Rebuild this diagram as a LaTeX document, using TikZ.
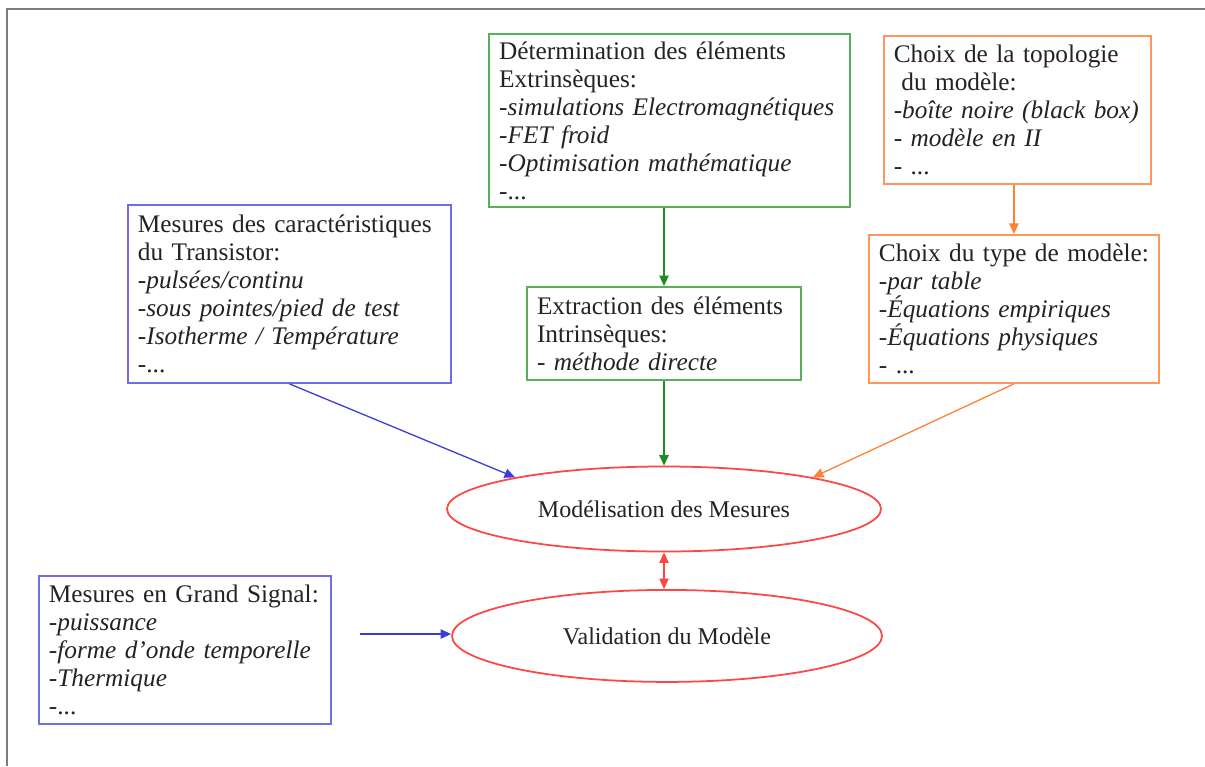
\documentclass[tikz,border=0pt]{standalone}
\usepackage{fontspec}
\setmainfont{Liberation Serif}
\usetikzlibrary{arrows.meta, positioning, shapes.geometric}
\definecolor{MesBlue}     {RGB}{110, 110, 230}
\definecolor{ArrowBlue}   {RGB}{ 60,  60, 215}
\definecolor{ExtrGreen}   {RGB}{ 90, 175,  90}
\definecolor{ArrowGreen}  {RGB}{ 30, 140,  30}
\definecolor{TopoOrange}  {RGB}{255, 150,  90}
\definecolor{ArrowOrange} {RGB}{255, 130,  50}
\definecolor{ModelRed}    {RGB}{255,  70,  70}
\definecolor{FrameGray}   {RGB}{125, 125, 125}
\definecolor{TextGray}    {RGB}{ 35,  35,  35}
\newcommand{\boxfont}{\fontsize{21.6}{23.9}\selectfont}
\newcommand{\stagefont}{\fontsize{20.5}{23.9}\selectfont}
\tikzset{
  % Rectangular info box with coloured border
  infobox/.style={
    rectangle, draw=#1, line width=1.6pt, fill=white,
    font=\boxfont, text=TextGray, align=left,
    inner xsep=0.3cm, inner ysep=0.12cm
  },
  infobox/.default=MesBlue,
  % Modelling stage (ellipse)
  stage/.style={
    ellipse, draw=ModelRed, line width=1.5pt, fill=white,
    font=\stagefont, text=TextGray, inner sep=0pt
  },
  % Flow arrows
  flowarrow_blue/.style={
    ->, >={Triangle[length=9pt,width=8pt]}, line width=1.1pt, color=ArrowBlue
  },
  flowarrow_green/.style={
    ->, >={Triangle[length=9pt,width=8pt]}, line width=1.1pt, color=ArrowGreen
  },
  flowarrow_orange/.style={
    ->, >={Triangle[length=9pt,width=8pt]}, line width=1.1pt, color=ArrowOrange
  },
  flowarrow_red/.style={
    <->, >={Triangle[length=9pt,width=8pt]}, line width=1.1pt, color=ModelRed
  }
}

\begin{document}
\begin{tikzpicture}

  \useasboundingbox (0,0) rectangle (36.15,-22.98);

  % ── FRAME ────────────────────────────────────────────────────────────────
  \draw[FrameGray, line width=2.4pt] (0.21,-22.98) -- (0.21,-0.27) -- (36.15,-0.27);

  % ── CENTRAL STAGES ───────────────────────────────────────────────────────
  \node[stage, minimum width=13.02cm, minimum height=2.55cm] (mod)
        at (19.92,-15.27) {Modélisation des Mesures};

  \node[stage, minimum width=12.9cm, minimum height=2.76cm,
        below=1.1cm of mod, xshift=0.09cm] (val)
        {Validation du Modèle};

  % ── EXTRACTION (green column) ────────────────────────────────────────────
  \node[infobox=ExtrGreen, text width=7.62cm, minimum height=2.79cm,
        above=2.54cm of mod] (intr)
        {Extraction des éléments\\
         Intrinsèques:\\
         - \textit{méthode directe}};

  \node[infobox=ExtrGreen, text width=10.23cm, minimum height=5.19cm,
        above=2.34cm of intr, xshift=0.17cm] (extr)
        {Détermination des éléments\\
         Extrinsèques:\\
         \textit{-simulations Electromagnétiques}\\
         \textit{-FET froid}\\
         \textit{-Optimisation mathématique}\\
         -...};

  % ── MODEL CHOICE (orange column) ─────────────────────────────────────────
  \node[infobox=TopoOrange, text width=8.1cm, minimum height=4.44cm,
        anchor=north west] (type) at (26.04,-7.02)
        {Choix du type de modèle:\\
         \textit{-par table}\\
         \textit{-Équations empiriques}\\
         \textit{-Équations physiques}\\
         - ...};

  \node[infobox=TopoOrange, text width=7.41cm, minimum height=4.44cm,
        above=1.47cm of type, xshift=0.1cm] (topo)
        {Choix de la topologie\\
         \hspace*{0.3em}du modèle:\\
         \textit{-boîte noire (black box)}\\
         \textit{- modèle en II}\\
         - ...};

  % ── MEASUREMENTS (blue) ──────────────────────────────────────────────────
  \node[infobox=MesBlue, text width=9.09cm, minimum height=5.34cm,
        anchor=north west] (mes) at (3.81,-6.12)
        {Mesures des caractéristiques\\
         du Transistor:\\
         \textit{-pulsées/continu}\\
         \textit{-sous pointes/pied de test}\\
         \textit{-Isotherme / Température}\\
         -...};

  \node[infobox=MesBlue, text width=8.16cm, minimum height=4.44cm,
        anchor=north west] (gs) at (1.14,-17.25)
        {Mesures en Grand Signal:\\
         \textit{-puissance}\\
         \textit{-forme d’onde temporelle}\\
         \textit{-Thermique}\\
         -...};

  \coordinate (gs_in) at (10.8,-19.02);

  % ── ARROWS ───────────────────────────────────────────────────────────────
  \draw[flowarrow_green] (intr.north |- extr.south) -- (intr.north);
  \draw[flowarrow_green] (intr.south) -- (mod.north);

  \draw[flowarrow_orange] (type.north |- topo.south) -- (type.north);
  \draw[flowarrow_orange] (type.south) -- (mod.12);

  \draw[flowarrow_blue] (mes.south) -- (mod.168);
  \draw[flowarrow_blue] (gs_in) -- (gs_in -| val.west);

  \draw[flowarrow_red] (mod.south) -- (mod.south |- val.north);

\end{tikzpicture}
\end{document}
